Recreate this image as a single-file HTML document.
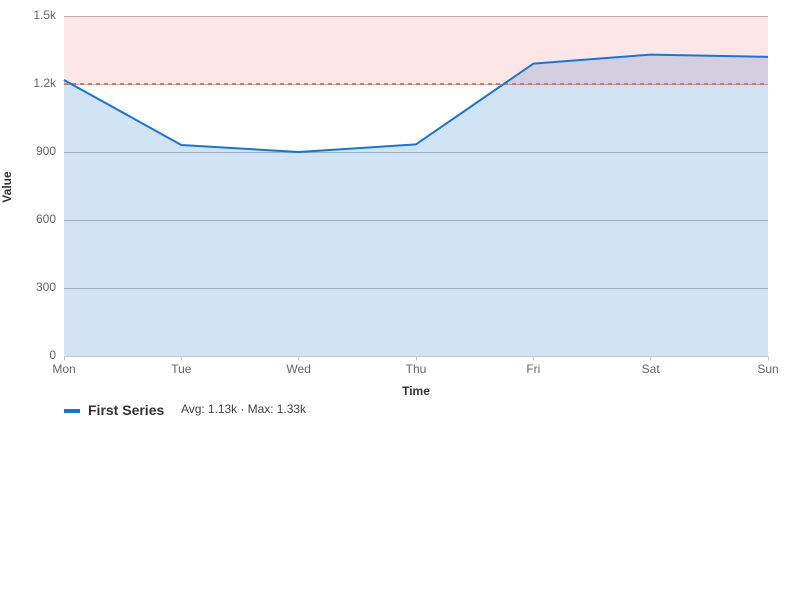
<!DOCTYPE html>
<html>
<head>
<meta charset="utf-8">
<title>First Series chart</title>
<style>
html,body{margin:0;padding:0;background:#fff;width:800px;height:600px;overflow:hidden}
body{position:relative;font-family:"Liberation Sans",sans-serif}
svg{display:block;position:absolute;left:0;top:0}
.t{position:absolute;white-space:nowrap;line-height:14px;height:14px;font-size:12px}
.tick-y{width:50px;left:6px;text-align:right;color:#666}
.tick-x{width:60px;text-align:center;color:#666}
</style>
</head>
<body>
<svg id="chart" width="800" height="600" viewBox="0 0 800 600" xmlns="http://www.w3.org/2000/svg">
  <g id="plot"></g>
  <g id="xaxis"></g>
  <rect x="64" y="409" width="16" height="4" fill="#1976d2"></rect>
</svg>
<div id="labels"></div>
<div class="t" style="left:386px;top:384px;width:60px;text-align:center;font-weight:bold;color:#333">Time</div>
<div class="t" style="left:-23px;top:180px;width:60px;text-align:center;font-weight:bold;color:#333;transform:rotate(-90deg)">Value</div>
<div class="t" style="left:88px;top:403px;font-size:14px;font-weight:bold;color:#333;line-height:14px">First Series</div>
<div class="t" style="left:181px;top:402px;color:#444;letter-spacing:-0.04px">Avg: 1.13k · Max: 1.33k</div>
<script>
const categories = ['Mon', 'Tue', 'Wed', 'Thu', 'Fri', 'Sat', 'Sun'];
const seriesValues = [1220, 933, 902, 936, 1292, 1332, 1322];
const yTicks = [0, 300, 600, 900, 1200, 1500];
const yTickLabels = ['0', '300', '600', '900', '1.2k', '1.5k'];
const thresholdValue = 1200;
const yMax = 1500;

const left = 64, right = 768, top_ = 16.5, bottom = 356.5;
const NS = 'http://www.w3.org/2000/svg';
const xScale = i => left + (right - left) * i / (categories.length - 1);
const yScale = v => bottom - (bottom - top_) * v / yMax;

function make(tag, attrs, parent) {
  const el = document.createElementNS(NS, tag);
  for (const k in attrs) el.setAttribute(k, attrs[k]);
  parent.appendChild(el);
  return el;
}

const plot = document.getElementById('plot');
const xaxis = document.getElementById('xaxis');
const labels = document.getElementById('labels');

yTicks.forEach((t, i) => {
  if (t !== 0) {
    const grid = make('line', {x1: left, x2: right, y1: yScale(t), y2: yScale(t), stroke: '#bbbbbb', 'stroke-width': 1}, plot);
    
    
  }
  const label = document.createElement('div');
  label.className = 't tick-y';
  label.style.top = (yScale(t) - 8.5) + 'px';
  label.textContent = yTickLabels[i];
  
  
  labels.appendChild(label);
});

const areaPts = seriesValues.map((v, i) => xScale(i) + ',' + yScale(v));
const area = make('polygon', {
  points: left + ',' + bottom + ' ' + areaPts.join(' ') + ' ' + right + ',' + bottom,
  fill: '#1976d2', 'fill-opacity': 0.2
}, plot);



const band = make('rect', {
  x: left, y: yScale(yMax) - 0.5, width: right - left, height: yScale(thresholdValue) - yScale(yMax),
  fill: '#e53935', 'fill-opacity': 0.12
}, plot);



const threshold = make('line', {
  x1: left, x2: right, y1: yScale(thresholdValue) - 0.5, y2: yScale(thresholdValue) - 0.5,
  stroke: '#e57368', 'stroke-width': 2, 'stroke-dasharray': '4 4'
}, plot);



const line = make('polyline', {points: areaPts.join(' '), fill: 'none', stroke: '#1976d2', 'stroke-width': 2, 'stroke-linejoin': 'round'}, plot);



const axisLine = make('line', {x1: left, x2: right, y1: bottom, y2: bottom, stroke: '#c4c4c4', 'stroke-width': 1}, xaxis);



categories.forEach((c, i) => {
  const px = Math.floor(xScale(i)) + 0.5;
  const tick = make('line', {x1: px, x2: px, y1: bottom, y2: bottom + 4, stroke: '#c4c4c4', 'stroke-width': 1}, xaxis);
  
  
  const label = document.createElement('div');
  label.className = 't tick-x';
  label.style.left = (xScale(i) - 30) + 'px';
  label.style.top = '362px';
  label.textContent = c;
  
  
  labels.appendChild(label);
});
</script>
</body>
</html>
